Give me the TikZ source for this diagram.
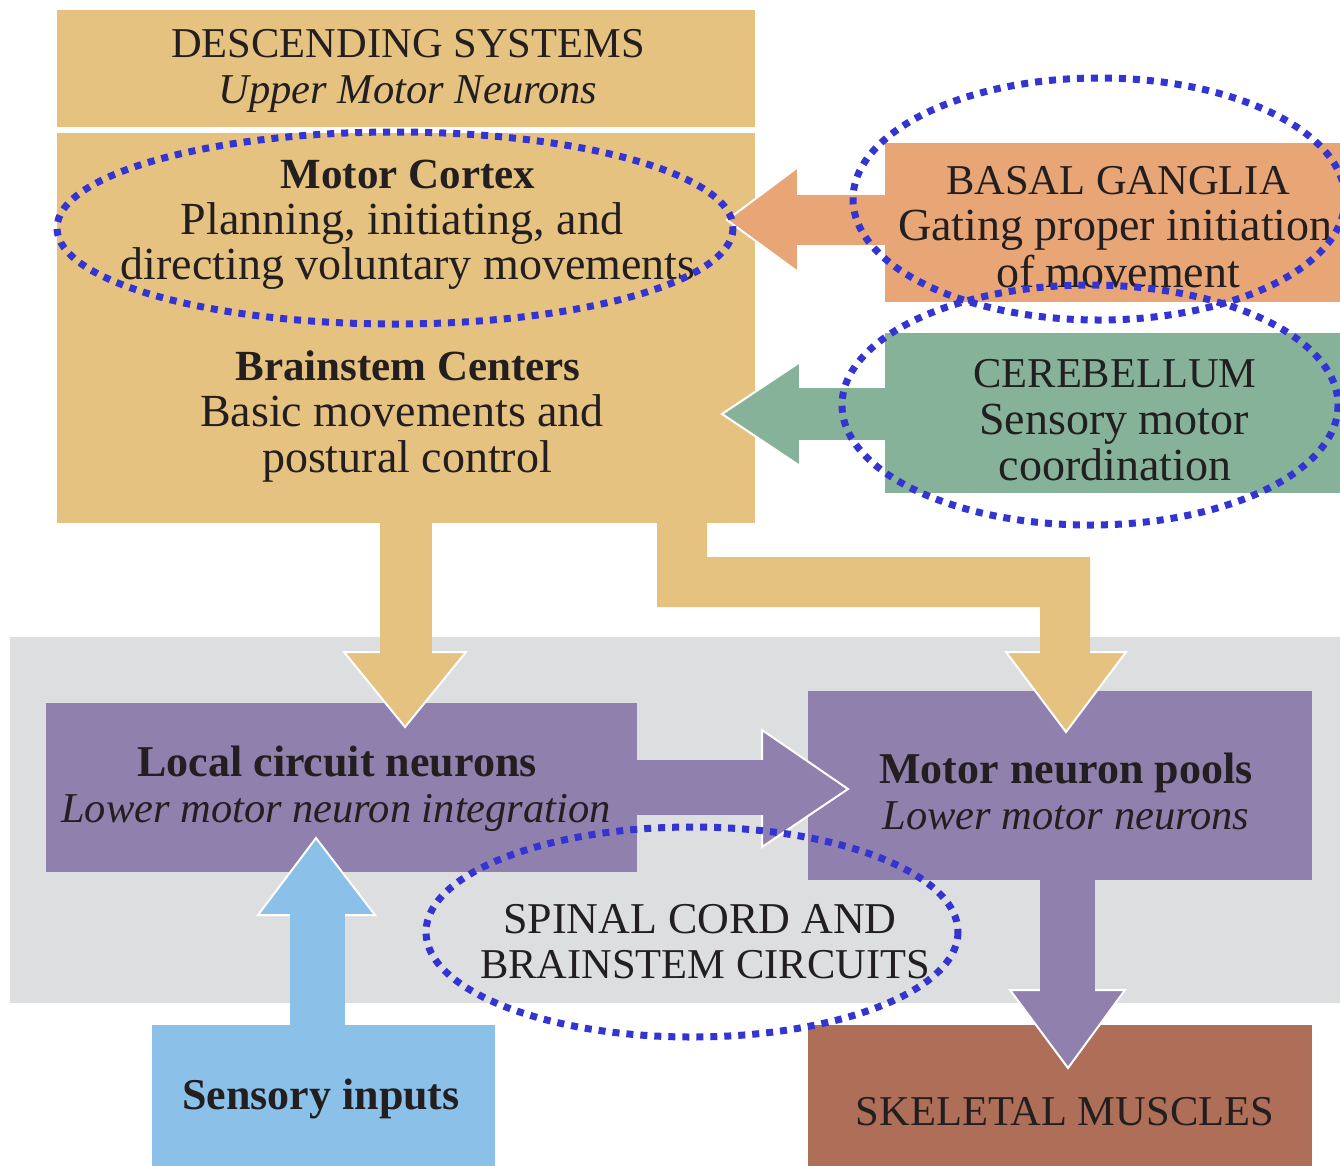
\documentclass[tikz,border=0pt]{standalone}
\usepackage{fontspec}
\setmainfont{Liberation Serif}
\definecolor{tan}{HTML}{E6C281}
\definecolor{orng}{HTML}{E8A676}
\definecolor{grn}{HTML}{86B29A}
\definecolor{purp}{HTML}{8F80AD}
\definecolor{band}{HTML}{DDDEE0}
\definecolor{sky}{HTML}{8BC1E8}
\definecolor{brwn}{HTML}{AE6E58}
\definecolor{dotblue}{HTML}{3434D2}
\definecolor{ink}{HTML}{231F20}
\begin{document}
\begin{tikzpicture}[x=1pt,y=-1pt,
 box/.style={rectangle, inner sep=0pt, outer sep=0pt, draw=none, anchor=north west},
 txt/.style={anchor=base, inner sep=0pt, text=ink},
 capt/.style={txt, font=\fontsize{42.5}{50}\selectfont},
 bodyt/.style={txt, font=\fontsize{46}{50}\selectfont},
 boldt/.style={txt, font=\fontsize{44}{50}\selectfont\bfseries},
 itt/.style={txt, font=\fontsize{42.5}{50}\selectfont\itshape},
 ring/.style={draw=dotblue, line width=7pt, dash pattern=on 7pt off 7pt},
 head/.style={draw=white, line width=2pt, line join=miter},
]
\clip (0,0) rectangle (1340,1165);
\fill[white] (0,0) rectangle (1340,1165);
% grey band
\fill[band] (10,637) rectangle (1340,1003);
% boxes
\node[box, fill=tan, minimum width=698pt, minimum height=117pt] (desc) at (57,10) {};
\node[box, fill=tan, minimum width=698pt, minimum height=390pt] (brain) at (57,133) {};
\node[box, fill=orng, minimum width=470pt, minimum height=159pt] (basal) at (885,143) {};
\node[box, fill=grn, minimum width=470pt, minimum height=160pt] (cereb) at (885,333) {};
\node[box, fill=purp, minimum width=591pt, minimum height=169pt] (local) at (46,703) {};
\node[box, fill=purp, minimum width=504pt, minimum height=189pt] (pools) at (808,691) {};
\node[box, fill=sky, minimum width=343pt, minimum height=145pt] (sens) at (152,1025) {};
\node[box, fill=brwn, minimum width=504pt, minimum height=145pt] (skel) at (808,1025) {};
% arrows: basal ganglia -> descending
\draw[head, fill=orng] (798,167) -- (727,220) -- (798,272) -- cycle;
\fill[orng] (796,195) rectangle (887,245);
% cerebellum -> descending
\draw[head, fill=grn] (800,362) -- (722,414) -- (800,466) -- cycle;
\fill[grn] (798,388) rectangle (887,440);
% descending -> local circuit
\draw[head, fill=tan] (344,652) -- (405,727) -- (466,652) -- cycle;
\fill[tan] (380,520) rectangle (432,654);
% descending -> motor pools
\draw[head, fill=tan] (1006,652) -- (1066,732) -- (1126,652) -- cycle;
\fill[tan] (657,520) -- (657,607) -- (1040,607) -- (1040,654) -- (1090,654) -- (1090,557) -- (707,557) -- (707,520) -- cycle;
% local -> pools
\draw[head, fill=purp] (762,730) -- (848,789) -- (762,847) -- cycle;
\fill[purp] (634,760) rectangle (764,815);
% pools -> skeletal
\draw[head, fill=purp] (1010,990) -- (1068,1068) -- (1125,990) -- cycle;
\fill[purp] (1040,878) rectangle (1095,992);
% sensory -> local
\draw[head, fill=sky] (258,915) -- (316,838) -- (375,915) -- cycle;
\fill[sky] (290,1028) rectangle (345,913);
% texts
\node[capt] (t1) at (408,57) {DESCENDING SYSTEMS};
\node[itt] (t2) at (408,103) {Upper Motor Neurons};
\node[boldt, font=\fontsize{43}{50}\selectfont\bfseries] (t3) at (408,188.5) {Motor Cortex};
\node[bodyt] (t4) at (402,234.5) {Planning, initiating, and};
\node[bodyt] (t5) at (408,279.5) {directing voluntary movements};
\node[boldt, font=\fontsize{43}{50}\selectfont\bfseries] (t6) at (408,380.5) {Brainstem Centers};
\node[bodyt] (t7) at (402,426.5) {Basic movements and};
\node[bodyt] (t8) at (407,472.5) {postural control};
\node[capt] (t9) at (1118,194) {BASAL GANGLIA};
\node[bodyt, anchor=base west] (t10) at (898,240) {Gating proper initiation};
\node[bodyt] (t11) at (1118,287) {of movement};
\node[capt] (t12) at (1115,387) {CEREBELLUM};
\node[bodyt] (t13) at (1114,434) {Sensory motor};
\node[bodyt] (t14) at (1115,480) {coordination};
\node[boldt] (t15) at (337,776) {Local circuit neurons};
\node[itt] (t16) at (336,822) {Lower motor neuron integration};
\node[boldt] (t17) at (1066,783) {Motor neuron pools};
\node[itt] (t18) at (1066,829) {Lower motor neurons};
\node[capt, font=\fontsize{44}{50}\selectfont] (t19) at (700,933) {SPINAL CORD AND};
\node[capt] (t20) at (705,978) {BRAINSTEM CIRCUITS};
\node[boldt] (t21) at (321,1109) {Sensory inputs};
\node[capt] (t22) at (1065,1125) {SKELETAL MUSCLES};
% dotted rings
\draw[ring] (395,228) ellipse [x radius=338, y radius=96];
\draw[ring] (1099,199) ellipse [x radius=246, y radius=121];
\draw[ring] (1090,405) ellipse [x radius=248, y radius=120];
\draw[ring] (692,932) ellipse [x radius=266, y radius=105];
\end{tikzpicture}
\end{document}
